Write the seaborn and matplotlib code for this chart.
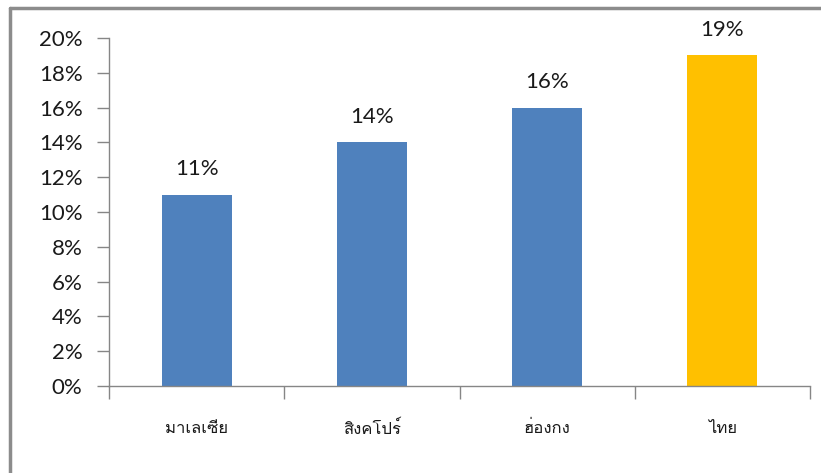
import matplotlib
matplotlib.use("Agg")
import matplotlib.pyplot as plt
from matplotlib import font_manager
from matplotlib.ft2font import FT2Font
from matplotlib.ticker import FixedLocator, PercentFormatter
import seaborn as sns
import pandas as pd

# Share of something by country (percent)
countries = ["มาเลเซีย", "สิงคโปร์", "ฮ่องกง", "ไทย"]
values = [11, 14, 16, 19]
bar_colors = ["#4F81BD", "#4F81BD", "#4F81BD", "#FFC000"]
y_ticks = [0, 2, 4, 6, 8, 10, 12, 14, 16, 18, 20]


def thai_family():
    """Return the name of an installed font family that covers Thai script."""
    preferred = []
    for entry in font_manager.fontManager.ttflist:
        try:
            cmap = FT2Font(entry.fname).get_charmap()
        except Exception:
            continue
        if all(ord(c) in cmap for c in "มาเลซียสิงคโปร์ฮ่องกไท"):
            preferred.append(entry.name)
    return preferred[0] if preferred else "DejaVu Sans"


sns.set_theme(style="white")
thai_font = thai_family()
plt.rcParams["font.family"] = ["Lato", thai_font, "DejaVu Sans"]

df = pd.DataFrame({"country": countries, "value": values})

fig = plt.figure(figsize=(8.21, 4.73), dpi=100)
ax = fig.add_axes([109 / 821, 1 - 386 / 473, (810 - 109) / 821, (386 - 38) / 473])

sns.barplot(data=df, x="country", y="value", hue="country", palette=bar_colors,
            legend=False, width=0.4, saturation=1, ax=ax, order=countries,
            linewidth=0)

ax.set_ylim(0, 20)
ax.set_xlim(-0.5, len(countries) - 0.5)
ax.set_xlabel("")
ax.set_ylabel("")

spine_color = "#868686"
text_color = "#1a1a1a"
for side in ["top", "right"]:
    ax.spines[side].set_visible(False)
for side in ["left", "bottom"]:
    ax.spines[side].set_color(spine_color)
    ax.spines[side].set_linewidth(1.0)

# y axis: percent ticks pointing outward
ax.yaxis.set_major_locator(FixedLocator(y_ticks))
ax.yaxis.set_major_formatter(PercentFormatter(decimals=0))
ax.tick_params(axis="y", which="major", direction="out", length=9, width=1,
               color=spine_color, labelsize=16, labelcolor=text_color, pad=10, left=True)

# x axis: ticks between categories, labels at centres
n = len(countries)
ax.xaxis.set_major_locator(FixedLocator([i - 0.5 for i in range(n + 1)]))
ax.xaxis.set_minor_locator(FixedLocator(list(range(n))))
ax.set_xticklabels([""] * (n + 1))
ax.set_xticklabels(countries, minor=True)
ax.tick_params(axis="x", which="major", direction="out", length=9, width=1,
               color=spine_color, bottom=True)
ax.tick_params(axis="x", which="minor", length=0, pad=25, labelsize=12,
               labelcolor=text_color, bottom=True)
for lbl in ax.get_xticklabels(minor=True):
    lbl.set_family([thai_font, "DejaVu Sans"])

# value labels above bars
for patch, v in zip(ax.patches, values):
    ax.annotate(f"{v}%", (patch.get_x() + patch.get_width() / 2, v),
                xytext=(0, 11), textcoords="offset points",
                ha="center", va="bottom", fontsize=16, color=text_color)

# outer chart frame (top and left edges)
fig.add_artist(plt.Line2D([9.5 / 821, 1], [1 - 8.5 / 473, 1 - 8.5 / 473],
                          transform=fig.transFigure, color="#8c8c8c", lw=2.5))
fig.add_artist(plt.Line2D([9.5 / 821, 9.5 / 821], [0, 1 - 8.5 / 473],
                          transform=fig.transFigure, color="#8c8c8c", lw=2.5))

fig.savefig("out.png", dpi=100, facecolor="white")
